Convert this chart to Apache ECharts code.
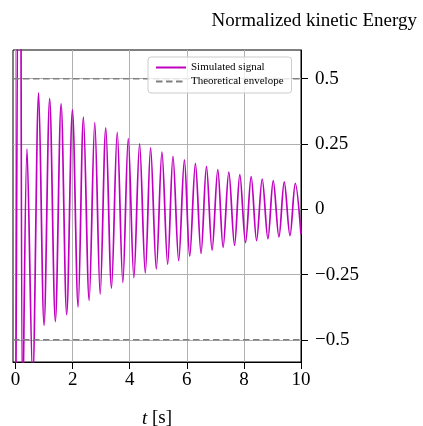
<!DOCTYPE html>
<html>
<head>
<meta charset="utf-8">
<script src="https://cdn.jsdelivr.net/npm/echarts@6/dist/echarts.min.js"></script>
<style>
html,body{margin:0;padding:0;background:#fff;}
#chart{width:423px;height:426px;}
</style>
</head>
<body>
<div id="chart"></div>
<script>
// Time (s) of each turning point of the simulated signal
const signalT = [0, 0.15, 0.25, 0.40, 0.60, 0.808, 0.998, 1.194, 1.394, 1.595, 1.791, 1.992, 2.192, 2.378, 2.578, 2.775, 2.965, 3.161, 3.361, 3.562, 3.758, 3.948, 4.145, 4.345, 4.545, 4.731, 4.931, 5.128, 5.328, 5.515, 5.715, 5.915, 6.101, 6.301, 6.498, 6.688, 6.884, 7.085, 7.271, 7.471, 7.671, 7.857, 8.057, 8.254, 8.444, 8.641, 8.841, 9.027, 9.227, 9.413, 9.614, 9.800, 10.0];
// Value at each turning point
const signalV = [-1.0, 2.0, -0.8, 0.231, -0.65, 0.446, -0.445, 0.424, -0.43, 0.404, -0.404, 0.381, -0.374, 0.353, -0.349, 0.332, -0.325, 0.312, -0.302, 0.295, -0.280, 0.271, -0.262, 0.251, -0.244, 0.235, -0.229, 0.220, -0.211, 0.203, -0.197, 0.189, -0.180, 0.176, -0.169, 0.164, -0.157, 0.152, -0.146, 0.142, -0.138, 0.133, -0.128, 0.125, -0.120, 0.116, -0.113, 0.110, -0.106, 0.105, -0.101, 0.0995, -0.096];
// Theoretical envelope
const envelopeT = [-0.09, 10];
const envelopeUpper = [0.5, 0.5];
const envelopeLower = [-0.5, -0.5];
// Ticks
const xTicks = [0, 2, 4, 6, 8, 10];
const yTicks = [-0.5, -0.25, 0, 0.25, 0.5];
const xRange = [-0.09, 10];
const yRange = [-0.585, 0.61];

const FONT = 'Liberation Serif';
const chart = echarts.init(document.getElementById('chart'), null, {renderer: 'canvas'});
const pairs = (xs, ys) => xs.map((x, i) => [x, ys[i]]);

chart.setOption({
  animation: false,
  backgroundColor: '#fff',
  title: {
    text: 'Normalized kinetic Energy',
    right: 1, top: 7,
    textStyle: {fontFamily: FONT, fontSize: 19, fontWeight: 'normal', color: '#000'}
  },
  grid: {
    left: 13, right: 122, top: 50, bottom: 64,
    outerBoundsMode: 'none',
    show: true, borderColor: '#000', borderWidth: 1, containLabel: false
  },
  legend: {
    data: ['Simulated signal', 'Theoretical envelope'],
    orient: 'vertical',
    left: 148, top: 57,
    itemWidth: 30, itemHeight: 10, itemGap: 3,
    padding: [5, 8, 6, 7],
    backgroundColor: 'rgba(255,255,255,0.8)',
    borderColor: '#cccccc', borderWidth: 1, borderRadius: 3,
    itemStyle: {opacity: 0},
    textStyle: {fontFamily: FONT, fontSize: 11, color: '#000'}
  },
  xAxis: {
    type: 'value', min: xRange[0], max: xRange[1],
    name: '{i|t} [s]', nameLocation: 'middle', nameGap: 47,
    nameTextStyle: {fontFamily: FONT, fontSize: 19, color: '#000',
      rich: {i: {fontFamily: FONT, fontSize: 19, fontStyle: 'italic', color: '#000'}}},
    axisLine: {show: true, onZero: false, lineStyle: {color: '#000', width: 1}},
    axisTick: {show: true, length: 7, lineStyle: {color: '#000'}, customValues: xTicks},
    axisLabel: {customValues: xTicks, margin: 9, fontFamily: FONT, fontSize: 19, color: '#000'},
    splitLine: {show: true, lineStyle: {color: '#b0b0b0', width: 1}}
  },
  yAxis: {
    type: 'value', position: 'right', min: yRange[0], max: yRange[1],
    axisLine: {show: true, onZero: false, lineStyle: {color: '#000', width: 1}},
    axisTick: {show: true, length: 7, lineStyle: {color: '#000'}, customValues: yTicks},
    axisLabel: {customValues: yTicks, margin: 14, fontFamily: FONT, fontSize: 19, color: '#000',
      formatter: v => String(v).replace('-', '\u2212')},
    splitLine: {show: true, lineStyle: {color: '#b0b0b0', width: 1}}
  },
  series: [
    {
      name: 'Simulated signal', type: 'line',
      data: pairs(signalT, signalV),
      smooth: 0.33, symbol: 'none', clip: true,
      lineStyle: {color: '#bf00bf', width: 1.7},
      itemStyle: {color: '#bf00bf'}, z: 2
    },
    {
      name: 'Theoretical envelope', type: 'line',
      data: pairs(envelopeT, envelopeUpper),
      symbol: 'none', clip: true,
      lineStyle: {color: '#808080', width: 1.6, type: [6.5, 3.5]},
      itemStyle: {color: '#808080'}, z: 3
    },
    {
      name: 'Theoretical envelope', type: 'line',
      data: pairs(envelopeT, envelopeLower),
      symbol: 'none', clip: true,
      lineStyle: {color: '#808080', width: 1.6, type: [6.5, 3.5]},
      itemStyle: {color: '#808080'}, z: 3
    }
  ]
});
</script>
</body>
</html>
